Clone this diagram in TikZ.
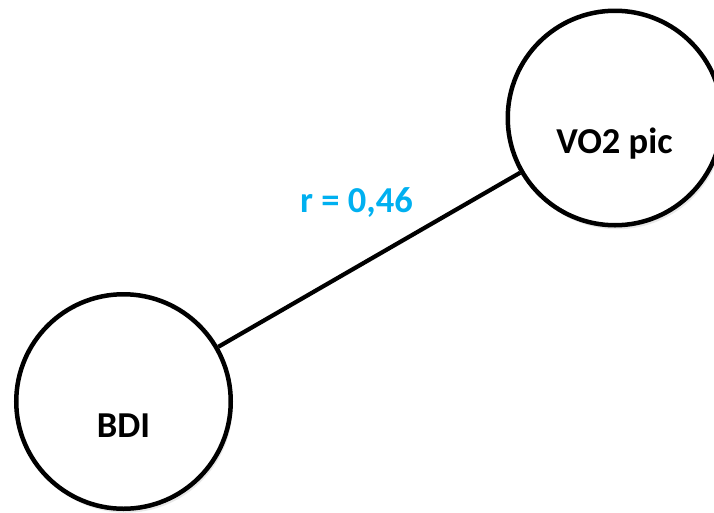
\documentclass[tikz,border=0pt]{standalone}
\usepackage{fontspec}
\setmainfont{Carlito}
\usetikzlibrary{shadows}
\definecolor{rcyan}{HTML}{00B0F0}
\tikzset{
  circ/.style={circle, draw=black, line width=4.5pt, fill=white, minimum size=214.5pt, inner sep=0pt,
    drop shadow={opacity=0.18, shadow xshift=2pt, shadow yshift=-4pt}},
  lbl/.style={anchor=base, inner sep=0pt, font=\fontsize{36.5}{44}\selectfont\bfseries},
  conn/.style={draw=black, line width=4.2pt},
}
\begin{document}
\begin{tikzpicture}[x=1pt, y=-1pt]
\useasboundingbox (0,0) rectangle (714,512);
\node[circ] (bdi) at (123.5,401.5) {};
\node[circ] (vo2) at (615,118) {};
\draw[conn] (bdi) -- (vo2);
\node[lbl] (bditext) at (123.5,437) {BDI};
\node[lbl] (vo2text) at (614.5,153) {VO2 pic};
\node[lbl, text=rcyan] (rtext) at (356.5,212) {r = 0,46};
\end{tikzpicture}
\end{document}
